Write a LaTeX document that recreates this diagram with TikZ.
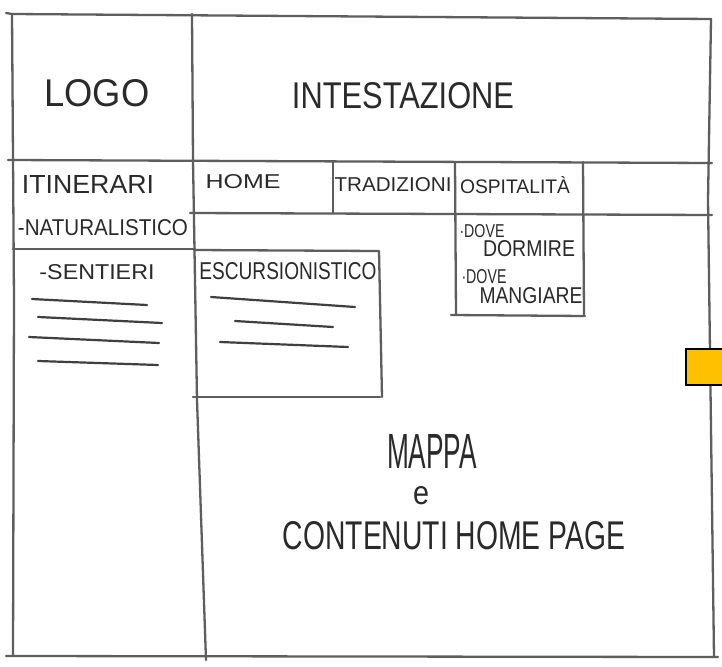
\documentclass[tikz,border=0pt]{standalone}
\usepackage{fontspec}
\setmainfont{Liberation Sans}
\usepackage{graphicx}
\definecolor{pencil}{HTML}{5E5E5E}
\definecolor{ink}{HTML}{2A2A2A}
\definecolor{postit}{HTML}{FFC000}
\newcommand{\fitbox}[3]{\resizebox{#1pt}{#2pt}{#3}}
\begin{document}
\begin{tikzpicture}[x=1pt,y=-1pt,
  pen/.style={draw=pencil, line width=2.3pt, line cap=round, line join=round},
  scrib/.style={draw=ink!90, line width=2.2pt, line cap=round},
  lbl/.style={inner sep=0pt, text=ink}]
\useasboundingbox (0,0) rectangle (722,666);
\fill[white] (0,0) rectangle (722,666);
% corner coordinates
\coordinate (tl) at (12,14);
\coordinate (tr) at (711,19);
\coordinate (br) at (714,657);
\coordinate (bl) at (13,656);
% outer frame
\draw[pen] (6,13) -- (tl) -- (tr);
\draw[pen] (tr) -- (708,200) -- (br);
\draw[pen] (tl) -- (14,300) -- (bl);
\draw[pen] (6,656) -- (bl) -- (br) -- (718,657);
% logo / left column divider
\draw[pen] (192,14) -- (193,160) -- (197,400) -- (206,660);
% header bottom
\draw[pen] (8,160) -- (712,163);
% navigation row
\draw[pen] (190,213) -- (712,215);
\draw[pen] (333,162) -- (333,213);
\draw[pen] (455,162) -- (456,315);
\draw[pen] (583,162) -- (584,315);
\draw[pen] (451,315) -- (585,316);
% itinerari separator
\draw[pen] (13,249) -- (195,249);
% escursionistico box
\draw[pen] (194,250) -- (379,251) -- (382,397);
\draw[pen] (193,397) -- (380,397);
% scribbled text lines, left column
\draw[scrib] (32,299) -- (147,305);
\draw[scrib] (38,317) -- (162,323);
\draw[scrib] (29,337) -- (159,343);
\draw[scrib] (38,361) -- (158,365);
% scribbled text lines, escursionistico
\draw[scrib] (211,297) -- (355,307);
\draw[scrib] (235,321) -- (333,327);
\draw[scrib] (220,342) -- (348,347);
% orange marker
\node[draw=black, line width=1.5pt, fill=postit, minimum width=37pt, minimum height=36pt, inner sep=0pt, anchor=north west] (marker) at (685,348) {};
% labels
\node[lbl] (logo) at (97,93) {\fitbox{105}{27}{LOGO}};
\node[lbl] (head) at (403,96) {\fitbox{222}{26}{INTESTAZIONE}};
\node[lbl] (itin) at (88,184) {\fitbox{132}{18}{ITINERARI}};
\node[lbl] (natu) at (103,228) {\fitbox{170}{16}{-NATURALISTICO}};
\node[lbl] (home) at (243,182) {\fitbox{75}{14}{HOME}};
\node[lbl] (trad) at (393,185) {\fitbox{117}{14}{TRADIZIONI}};
\node[lbl] (ospi) at (515,185) {\fitbox{110}{17}{OSPITALITÀ}};
\node[lbl] (sent) at (97,272) {\fitbox{115}{15}{-SENTIERI}};
\node[lbl] (escu) at (288,271) {\fitbox{177}{17}{ESCURSIONISTICO}};
\node[lbl] (dove1) at (482,231) {\fitbox{45}{13}{·DOVE}};
\node[lbl] (dorm) at (529,249) {\fitbox{92}{16}{DORMIRE}};
\node[lbl] (dove2) at (484,277) {\fitbox{45}{14}{·DOVE}};
\node[lbl] (mang) at (531,296) {\fitbox{103}{16}{MANGIARE}};
\node[lbl] (mappa) at (432,451) {\fitbox{90}{34}{MAPPA}};
\node[lbl] (e) at (421,496) {\fitbox{16}{18}{e}};
\node[lbl] (cont) at (454,536) {\fitbox{342}{28}{CONTENUTI HOME PAGE}};
\end{tikzpicture}
\end{document}
